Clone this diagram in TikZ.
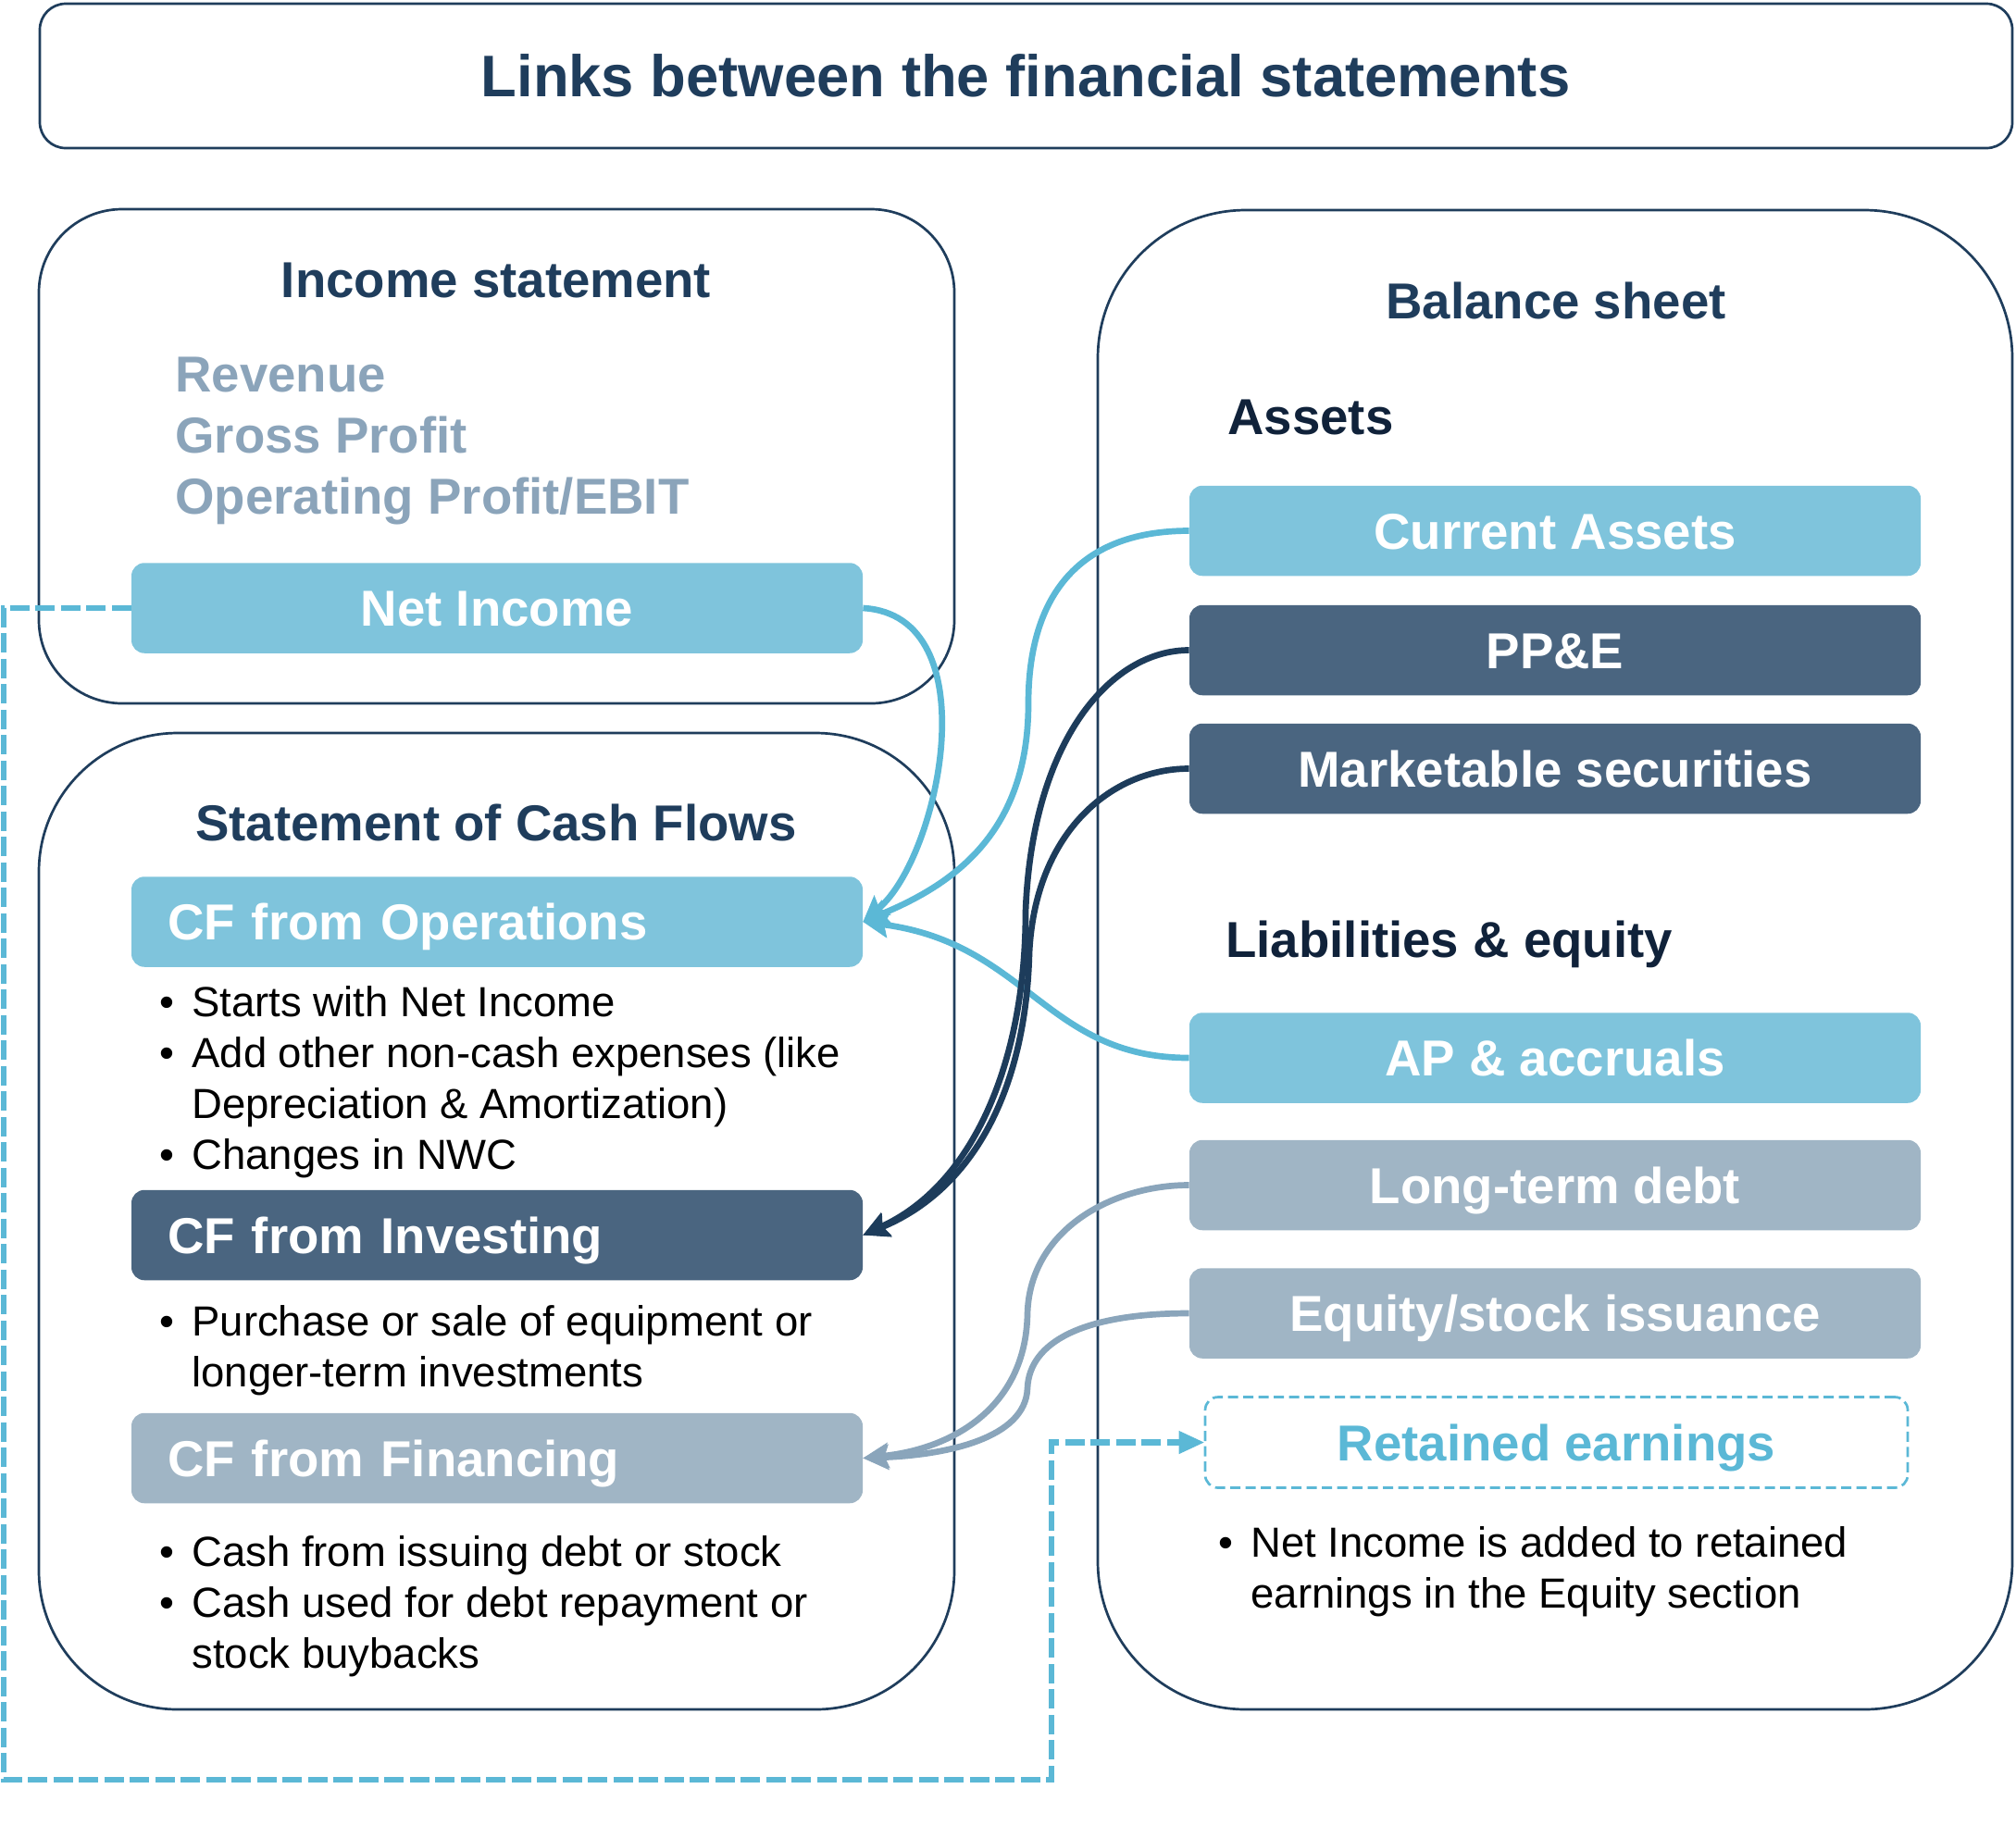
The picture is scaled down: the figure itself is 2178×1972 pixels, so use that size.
\documentclass[tikz,border=0pt]{standalone}
\usepackage{fontspec}
\setmainfont{Liberation Sans}
\usetikzlibrary{arrows.meta}
\definecolor{navy}{HTML}{1F3D5C}
\definecolor{darknavy}{HTML}{10223A}
\definecolor{lblue}{HTML}{7FC4DC}
\definecolor{cblue}{HTML}{5BB8D6}
\definecolor{slate}{HTML}{4A6580}
\definecolor{greyblue}{HTML}{A0B5C5}
\definecolor{greyline}{HTML}{8AA5BB}
\definecolor{greytext}{HTML}{8BA4BA}
\definecolor{darkline}{HTML}{1D3C5B}
\newcommand{\bul}{\makebox[17.5pt][l]{\textbullet}}
\begin{document}
\begin{tikzpicture}[x=0.5pt,y=-0.5pt,
  bigbox/.style={draw=navy, line width=1.35pt},
  hdr/.style={font=\fontsize{27.3}{32}\selectfont\bfseries, text=navy, inner sep=0pt, anchor=base},
  subhdr/.style={font=\fontsize{27.3}{32}\selectfont\bfseries, text=darknavy, inner sep=0pt, anchor=base west},
  item/.style={font=\fontsize{27.3}{32}\selectfont\bfseries, text=greytext, inner sep=0pt, anchor=base west},
  body/.style={font=\fontsize{22.75}{27.75}\selectfont, text=black, inner sep=0pt, anchor=base west},
  fbox/.style={rounded corners=7pt, minimum width=395pt, minimum height=48.75pt, inner sep=0pt,
    text=white, font=\fontsize{27.3}{32}\selectfont\bfseries, text height=19.5pt, text depth=0pt},
  lbox/.style={fbox, text width=356pt, align=left, inner xsep=19.5pt},
  conn/.style={line width=3.35pt, -{Stealth[length=14pt, width=14pt, inset=2.5pt, line width=0.5pt]}},
]
\useasboundingbox (0,0) rectangle (2178,1972);

% outer frames
\draw[bigbox, rounded corners=14pt] (43,4) rectangle (2174,160);
\draw[bigbox, rounded corners=45pt] (42,226) rectangle (1031,760);
\draw[bigbox, rounded corners=75pt] (42,792) rectangle (1031,1847);
\draw[bigbox, rounded corners=80pt] (1186,227) rectangle (2174,1847);

% title
\node[font=\fontsize{31.7}{36}\selectfont\bfseries, text=navy, inner sep=0pt, anchor=base] (title) at (1108,104) {Links between the financial statements};

% income statement
\node[hdr] (ist) at (536,321) {Income statement};
\node[item] (rev) at (189,423) {Revenue};
\node[item] (gp) at (189,489) {Gross Profit};
\node[item] (op) at (189,555) {Operating Profit/EBIT};
\node[fbox, fill=lblue] (ni) at (537,657) {Net Income};

% cash flows
\node[hdr] (scf) at (536,908) {Statement of Cash Flows};
\node[lbox, fill=lblue] (cfo) at (537,996) {CF from Operations};
\node[body] (cfo1) at (172,1098) {\bul Starts with Net Income};
\node[body] (cfo2) at (172,1153) {\bul Add other non-cash expenses (like};
\node[body] (cfo3) at (207,1208) {Depreciation \& Amortization)};
\node[body] (cfo4) at (172,1263) {\bul Changes in NWC};
\node[lbox, fill=slate] (cfi) at (537,1334.5) {CF from Investing};
\node[body] (cfi1) at (172,1443) {\bul Purchase or sale of equipment or};
\node[body] (cfi2) at (207,1498) {longer-term investments};
\node[lbox, fill=greyblue] (cff) at (537,1575.5) {CF from Financing};
\node[body] (cff1) at (172,1692) {\bul Cash from issuing debt or stock};
\node[body] (cff2) at (172,1747) {\bul Cash used for debt repayment or};
\node[body] (cff3) at (207,1802) {stock buybacks};

% balance sheet
\node[hdr] (bst) at (1681,344) {Balance sheet};
\node[subhdr] (assets) at (1326,469) {Assets};
\node[fbox, fill=lblue] (ca) at (1680,573.5) {Current Assets};
\node[fbox, fill=slate] (pp) at (1680,702.5) {PP\&E};
\node[fbox, fill=slate] (ms) at (1680,830.5) {Marketable securities};
\node[subhdr] (liab) at (1324,1034) {Liabilities \& equity};
\node[fbox, fill=lblue] (ap) at (1680,1143) {AP \& accruals};
\node[fbox, fill=greyblue] (ltd) at (1680,1280.5) {Long-term debt};
\node[fbox, fill=greyblue] (eq) at (1680,1419) {Equity/stock issuance};
\node[fbox, minimum width=379.5pt, minimum height=49pt, draw=cblue, line width=1.35pt,
      dash pattern=on 5.5pt off 2.75pt, text=cblue] (re) at (1681.5,1558.5) {Retained earnings};
\node[body] (re1) at (1316,1682) {\bul Net Income is added to retained};
\node[body] (re2) at (1351,1737) {earnings in the Equity section};

% connectors
\draw[conn, cblue] (ni.east) .. controls (1070,665) and (1015,925) .. (cfo.east);
\draw[conn, cblue] (ca.west) .. controls (1160,573.5) and (1111,650) .. (1111,760)
   .. controls (1111,900) and (1030,955) .. (cfo.east);
\draw[conn, cblue] (ap.west) .. controls (1130,1143) and (1110,1020) .. (cfo.east);
\draw[conn, darkline] (pp.west) .. controls (1200,702.5) and (1115,800) .. (1108,985)
   .. controls (1108,1150) and (1050,1280) .. (cfi.east);
\draw[conn, darkline] (ms.west) .. controls (1200,830.5) and (1118,900) .. (1112,1030)
   .. controls (1108,1180) and (1050,1285) .. (cfi.east);
\draw[conn, greyline] (ltd.west) .. controls (1200,1280.5) and (1112,1330) .. (1110,1420)
   .. controls (1108,1520) and (1030,1565) .. (cff.east);
\draw[conn, greyline] (eq.west) .. controls (1170,1419) and (1112,1450) .. (1110,1500)
   .. controls (1108,1555) and (1020,1572) .. (cff.east);

% dashed link net income -> retained earnings
\draw[line width=3.3pt, cblue, dash pattern=on 10.5pt off 3.25pt,
      -{Triangle[length=13.5pt, width=12.5pt, line width=0.5pt]}]
  (ni.west) -- (4,657) -- (4,1923) -- (1136,1923) -- (1136,1558.5) -- (re.west);
\end{tikzpicture}
\end{document}
